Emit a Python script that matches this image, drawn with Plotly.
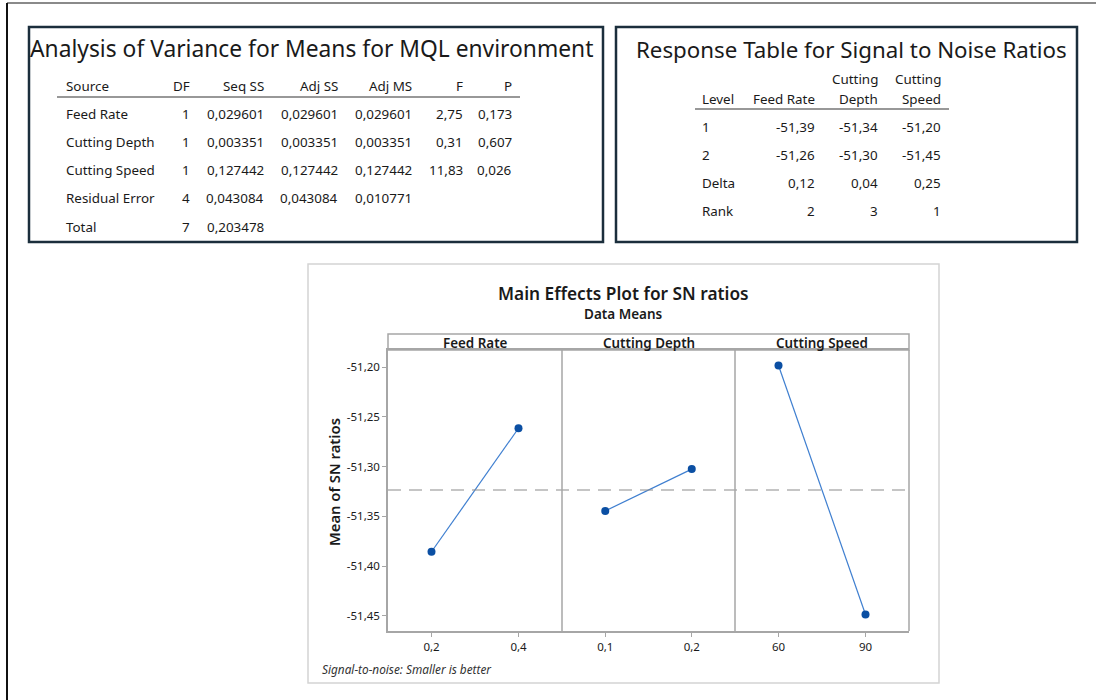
import plotly.graph_objects as go

# ---------------- data ----------------
anova_sources = ["Feed Rate", "Cutting Depth", "Cutting Speed", "Residual Error", "Total"]
anova_df = [1, 1, 1, 4, 7]
anova_seq_ss = [0.029601, 0.003351, 0.127442, 0.043084, 0.203478]
anova_adj_ss = [0.029601, 0.003351, 0.127442, 0.043084, None]
anova_adj_ms = [0.029601, 0.003351, 0.127442, 0.010771, None]
anova_f = [2.75, 0.31, 11.83, None, None]
anova_p = [0.173, 0.607, 0.026, None, None]

factors = ["Feed Rate", "Cutting Depth", "Cutting Speed"]
factor_levels = [["0,2", "0,4"], ["0,1", "0,2"], ["60", "90"]]
# mean S/N ratio at each factor level (level 1, level 2)
feed_rate_sn = [-51.3855, -51.2615]
cutting_depth_sn = [-51.3445, -51.3025]
cutting_speed_sn = [-51.1985, -51.4485]

y_tick_vals = [-51.20, -51.25, -51.30, -51.35, -51.40, -51.45]
y_tick_text = ["-51,20", "-51,25", "-51,30", "-51,35", "-51,40", "-51,45"]

# ---------------- helpers ----------------
W, H = 1096, 700
FONT = "Noto Sans"
TXT = "#1a1a1a"
PAD = 2  # annotation inner padding in px


def px(x):
    return x / W


def py(y):
    return 1 - y / H


def comma(v, nd):
    return f"{v:.{nd}f}".replace(".", ",")


annotations = []
shapes = []


def text(x, y, s, size=13, anchor="left", color=TXT, weight=None, **kw):
    if anchor == "left":
        x -= PAD
    elif anchor == "right":
        x += PAD
    font = dict(family=FONT, size=size, color=color)
    if weight:
        font["weight"] = weight
    annotations.append(dict(
        x=px(x), y=py(y), xref="paper", yref="paper", text=s, showarrow=False,
        xanchor=anchor, yanchor="middle", font=font, **kw))


def hline(x0, x1, y, color, width):
    shapes.append(dict(type="line", xref="paper", yref="paper", x0=px(x0), x1=px(x1),
                       y0=py(y), y1=py(y), line=dict(color=color, width=width)))


def vline(x, y0, y1, color, width):
    shapes.append(dict(type="line", xref="paper", yref="paper", x0=px(x), x1=px(x),
                       y0=py(y0), y1=py(y1), line=dict(color=color, width=width)))


def box(x0, y0, x1, y1, color, width):
    shapes.append(dict(type="rect", xref="paper", yref="paper", x0=px(x0), x1=px(x1),
                       y0=py(y1), y1=py(y0), line=dict(color=color, width=width)))


# page frame
hline(7, W, 3, "#8a8a8a", 2)
vline(7, 3, H, "#111111", 2)

TS = 13.4  # table text size

# ---------------- ANOVA table ----------------
NAVY = "#1b2e3c"
box(29, 27, 603, 242, NAVY, 2.5)
text(30, 48, "Analysis of Variance for Means for MQL environment", size=22.8, anchor="left")

hdr_y = 86
text(66, hdr_y, "Source", size=TS)
col_right = [190, 264, 338, 412, 463, 512]
for xr, h in zip(col_right, ["DF", "Seq SS", "Adj SS", "Adj MS", "F", "P"]):
    text(xr, hdr_y, h, size=TS, anchor="right")
hline(57, 520, 97, "#333333", 1.2)

row_y = [114, 142, 170, 198, 227]
for i, src in enumerate(anova_sources):
    y = row_y[i]
    text(66, y, src, size=TS)
    cells = [
        str(anova_df[i]),
        comma(anova_seq_ss[i], 6),
        comma(anova_adj_ss[i], 6) if anova_adj_ss[i] is not None else "",
        comma(anova_adj_ms[i], 6) if anova_adj_ms[i] is not None else "",
        comma(anova_f[i], 2) if anova_f[i] is not None else "",
        comma(anova_p[i], 3) if anova_p[i] is not None else "",
    ]
    for xr, c in zip(col_right, cells):
        if c:
            text(xr, y, c, size=TS, anchor="right")

# ---------------- response table ----------------
box(616, 27, 1077, 242, NAVY, 2.5)
text(636, 50, "Response Table for Signal to Noise Ratios", size=22.3, anchor="left")

sn_by_factor = [feed_rate_sn, cutting_depth_sn, cutting_speed_sn]
deltas = [max(v) - min(v) for v in sn_by_factor]
order = sorted(range(3), key=lambda k: -deltas[k])
ranks = [order.index(k) + 1 for k in range(3)]

resp_right = [815, 878, 941]
text(878, 79, "Cutting", size=TS, anchor="right")
text(941, 79, "Cutting", size=TS, anchor="right")
text(702, 99, "Level", size=TS)
for xr, h in zip(resp_right, ["Feed Rate", "Depth", "Speed"]):
    text(xr, 99, h, size=TS, anchor="right")
hline(695, 949, 109, "#333333", 1.2)

resp_rows = ["1", "2", "Delta", "Rank"]
resp_y = [127, 155, 183, 211]
for j, lab in enumerate(resp_rows):
    text(702, resp_y[j], lab, size=TS)
    for k in range(3):
        if j < 2:
            s = comma(sn_by_factor[k][j], 2)
        elif j == 2:
            s = comma(deltas[k], 2)
        else:
            s = str(ranks[k])
        text(resp_right[k], resp_y[j], s, size=TS, anchor="right")

# ---------------- main effects plot ----------------
box(308, 264, 939, 683, "#d4d4d4", 1.5)
text(623.5, 293, "Main Effects Plot for SN ratios", size=17.3, anchor="center", weight=600)
text(623.5, 314, "Data Means", size=13.5, anchor="center", weight=600)
text(322, 669, "<i>Signal-to-noise: Smaller is better</i>", size=11.8, color="#333333")
annotations.append(dict(
    x=px(334), y=py(482), xref="paper", yref="paper", text="Mean of SN ratios",
    showarrow=False, textangle=-90, xanchor="center", yanchor="middle",
    font=dict(family=FONT, size=14.8, color=TXT, weight=600)))

PL, PR, PT, PB, STRIP = 388, 909, 334, 631, 350
edges = [PL, 562, 735, PR]
FRAME = "#a6a6a6"

# strip headers above each panel
box(PL, PT, PR, STRIP, FRAME, 1.5)
for k, name in enumerate(factors):
    text((edges[k] + edges[k + 1]) / 2, (PT + STRIP) / 2 + 1.5, name, size=13.4,
         anchor="center", weight=600)

fig = go.Figure()
grand_mean = sum(sum(v) for v in sn_by_factor) / 6

y_range = [-51.4651, -51.1829]
for k in range(3):
    xa = "x" if k == 0 else f"x{k + 1}"
    fig.add_trace(go.Scatter(
        x=factor_levels[k], y=sn_by_factor[k], xaxis=xa, yaxis="y",
        mode="lines+markers",
        line=dict(color="#3f7fd0", width=1.2),
        marker=dict(color="#0b4fa3", size=8, symbol="circle"),
        showlegend=False, hoverinfo="skip"))

# dashed line: overall mean across all panels
shapes.append(dict(type="line", xref="paper", yref="y", x0=px(PL), x1=px(PR),
                   y0=grand_mean, y1=grand_mean,
                   line=dict(color="#8c8c8c", width=1.2, dash="13px,8px")))

layout_axes = {}
for k in range(3):
    key = "xaxis" if k == 0 else f"xaxis{k + 1}"
    layout_axes[key] = dict(
        domain=[px(edges[k]), px(edges[k + 1])], anchor="y",
        type="category", range=[-0.5, 1.5],
        showline=True, linecolor=FRAME, linewidth=1.5, mirror=True,
        ticks="outside", ticklen=4, tickcolor=FRAME,
        tickfont=dict(family=FONT, size=11.5, color=TXT),
        showgrid=False, zeroline=False, fixedrange=True)

fig.update_layout(
    width=W, height=H,
    margin=dict(l=0, r=0, t=0, b=0),
    paper_bgcolor="white", plot_bgcolor="white",
    yaxis=dict(
        domain=[py(PB), py(STRIP)], range=y_range, anchor="x",
        tickvals=y_tick_vals, ticktext=y_tick_text,
        ticks="outside", ticklen=4, tickcolor=FRAME,
        tickfont=dict(family=FONT, size=11.5, color=TXT),
        showline=True, linecolor=FRAME, linewidth=1.5,
        showgrid=False, zeroline=False),
    annotations=annotations,
    shapes=shapes,
    **layout_axes,
)

# panel dividers and right frame edge
for xe in edges[1:]:
    fig.add_shape(type="line", xref="paper", yref="paper", x0=px(xe), x1=px(xe),
                  y0=py(PB), y1=py(STRIP), line=dict(color=FRAME, width=1.5))

fig.write_html("out.html")
